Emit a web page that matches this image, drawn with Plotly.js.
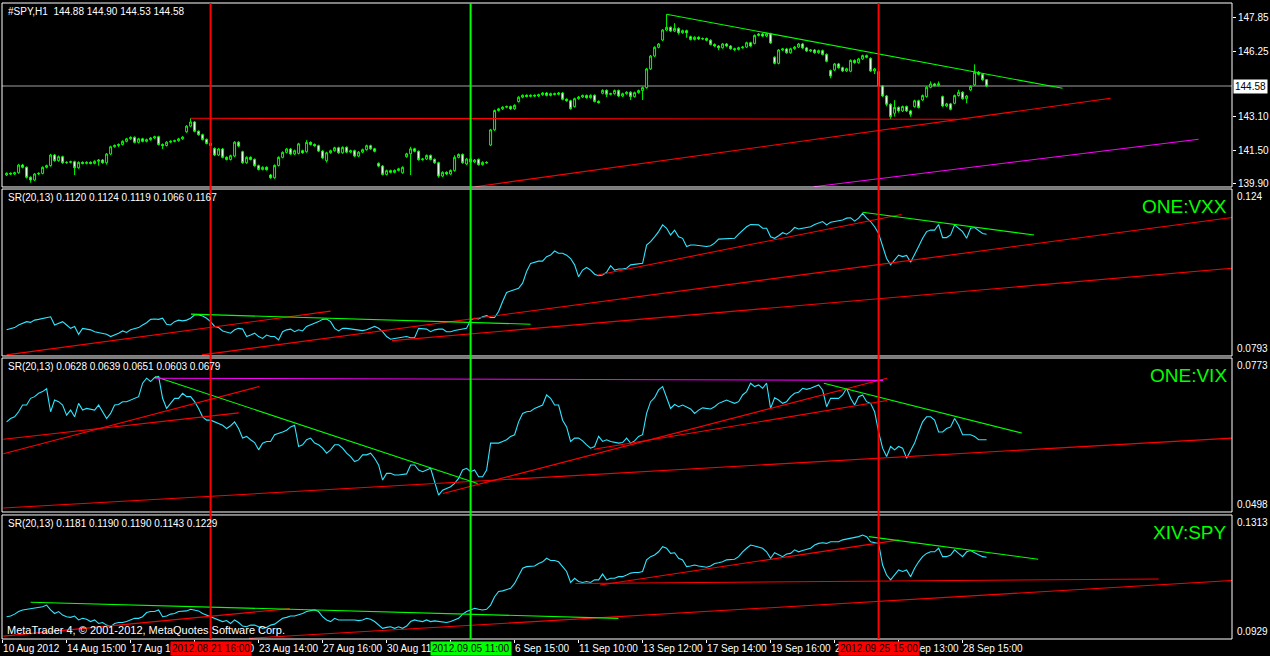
<!DOCTYPE html>
<html>
<head>
<meta charset="utf-8">
<script src="https://cdn.plot.ly/plotly-3.0.1.min.js"></script>
<style>html,body{margin:0;padding:0;background:#000;}#chart{width:1270px;height:656px;}</style>
</head>
<body>
<div id="chart"></div>
<script>
// ---------- DATA ----------
const spyOpen = [140.30,140.38,140.35,140.41,140.78,140.67,140.19,140.06,140.35,140.38,
140.67,140.75,141.26,140.99,141.18,140.89,140.91,140.94,140.65,140.91,
140.86,140.91,140.86,140.96,141.02,140.89,141.31,141.66,141.72,141.77,
141.92,142.04,142.11,141.87,142.04,141.92,142.00,142.08,142.14,141.77,
141.72,141.88,141.92,141.95,142.04,142.38,142.65,142.85,142.40,142.24,
142.01,141.82,141.58,141.26,141.55,141.15,141.05,141.21,141.88,141.42,
140.89,141.15,141.05,140.75,140.57,140.67,140.30,140.17,140.76,141.15,
141.39,141.55,141.31,141.34,141.47,141.42,141.87,141.77,141.71,141.45,
140.99,141.37,141.47,141.61,141.37,141.63,141.40,141.47,141.21,141.40,
141.52,141.71,141.56,140.86,140.73,140.33,140.51,140.43,140.52,140.41,
141.18,141.32,141.56,141.44,141.04,141.07,141.24,141.05,140.89,140.25,
140.43,140.35,140.51,141.15,141.29,140.83,141.07,140.93,141.05,140.80,
140.91,141.74,142.47,143.40,143.48,143.56,143.59,143.48,143.83,144.04,
144.13,144.08,144.13,144.10,144.16,144.24,144.13,144.21,144.18,144.24,
143.94,143.87,143.59,143.97,144.05,144.12,144.02,144.13,143.84,144.23,
144.37,144.18,144.21,144.36,144.10,144.21,144.28,144.07,144.26,144.36,
144.50,145.40,146.02,146.44,146.79,147.27,147.40,147.22,147.35,147.14,
147.24,146.95,146.82,146.92,146.84,146.86,146.78,146.58,146.50,146.42,
146.60,146.50,146.37,146.34,146.42,146.45,146.66,146.63,147.01,147.08,
146.98,147.09,145.96,145.67,146.31,146.36,146.18,146.37,146.45,146.60,
146.41,146.26,146.31,146.18,146.28,146.10,145.32,145.35,145.64,145.46,
145.30,145.29,145.81,145.70,145.88,146.04,145.91,145.30,145.27,144.58,
144.10,143.70,143.27,143.55,143.38,143.59,143.38,143.59,143.87,143.91,
144.07,144.52,144.68,144.61,144.07,143.62,143.72,143.75,144.12,144.28,
143.97,144.39,144.63,145.24,145.14,144.88];
const spyHigh = [140.43,140.43,140.46,140.84,140.84,140.72,140.24,140.40,140.43,140.72,
140.80,141.32,141.31,141.24,141.23,140.96,140.99,140.99,140.96,140.96,
140.96,140.96,141.01,141.07,141.07,141.36,141.71,141.77,141.82,141.97,
142.09,142.16,142.16,142.09,142.09,142.05,142.13,142.19,142.19,141.82,
141.93,141.97,142.00,142.09,142.17,142.70,143.03,142.90,142.45,142.29,
142.06,141.87,141.63,141.60,141.60,141.20,141.28,141.93,141.93,141.47,
141.20,141.20,141.10,140.80,140.72,140.72,140.35,140.81,141.20,141.44,
141.60,141.60,141.52,141.85,141.52,141.98,141.92,141.82,141.76,141.50,
141.42,141.52,141.66,141.66,141.68,141.68,141.52,141.52,141.45,141.57,
141.76,141.76,141.61,140.91,140.78,140.56,140.56,140.57,140.65,140.72,
141.37,141.66,141.61,141.49,141.12,141.29,141.29,141.10,140.94,140.48,
140.48,140.57,141.25,141.34,141.34,141.12,141.12,141.07,141.10,140.96,
140.96,142.52,143.45,143.53,143.61,143.64,143.64,143.70,144.09,144.18,
144.18,144.18,144.18,144.21,144.29,144.29,144.26,144.26,144.29,144.29,
143.99,143.92,144.02,144.10,144.17,144.17,144.18,144.18,143.89,144.42,
144.42,144.26,144.41,144.41,144.26,144.33,144.33,144.31,144.41,144.55,
145.45,146.07,146.49,146.65,147.32,148.03,147.45,147.60,147.40,147.29,
147.29,147.00,146.97,146.97,146.91,146.91,146.83,146.63,146.55,146.65,
146.65,146.55,146.42,146.47,146.50,146.71,146.71,147.06,147.13,147.13,
147.14,147.14,146.01,146.36,146.41,146.41,146.42,146.50,146.65,146.65,
146.46,146.36,146.36,146.33,146.33,146.15,145.37,145.69,145.69,145.51,
145.46,145.86,145.86,145.93,146.09,146.09,145.96,145.45,145.32,144.63,
144.15,143.75,143.90,143.60,143.64,143.64,143.43,143.92,143.92,144.17,
144.57,144.80,144.73,144.80,144.12,143.77,143.77,144.17,144.40,144.33,
144.15,144.61,145.62,145.30,145.19,144.90];
const spyLow = [140.25,140.30,140.30,140.36,140.62,140.13,139.93,140.01,140.30,140.33,
140.62,140.70,140.94,140.94,140.84,140.84,140.86,140.30,140.60,140.81,
140.81,140.81,140.81,140.75,140.84,140.80,141.26,141.61,141.64,141.72,
141.87,141.99,141.82,141.82,141.87,141.87,141.95,142.03,141.72,141.55,
141.67,141.83,141.87,141.90,141.99,142.33,142.60,142.35,142.19,141.96,
141.77,141.67,141.21,141.21,141.10,141.00,141.00,141.16,141.64,140.84,
140.84,141.00,140.70,140.52,140.52,140.51,140.12,140.12,140.71,141.10,
141.34,141.26,141.26,141.29,141.32,141.37,141.72,141.66,141.40,141.07,
140.90,141.32,141.42,141.32,141.32,141.35,141.35,141.16,141.16,141.35,
141.47,141.51,141.39,140.68,140.28,140.28,140.38,140.38,140.47,140.36,
141.13,140.30,141.39,140.99,140.99,141.02,141.00,140.84,140.17,140.20,
140.30,140.30,140.46,141.10,140.84,140.78,140.88,140.88,140.75,140.75,
140.84,141.69,142.42,143.35,143.43,143.51,143.43,143.43,143.78,143.99,
144.03,144.03,144.05,144.05,144.11,144.08,144.08,144.13,144.13,143.89,
143.82,143.44,143.54,143.92,144.00,143.97,143.97,143.79,143.73,144.18,
144.05,144.13,144.16,144.05,144.05,144.16,143.91,144.02,144.21,143.91,
144.45,145.35,145.97,146.39,146.74,147.22,147.17,147.17,147.05,147.09,
146.90,146.77,146.77,146.79,146.79,146.73,146.53,146.45,146.30,146.37,
146.45,146.32,146.26,146.29,146.37,146.40,146.45,146.58,146.96,146.93,
146.93,146.60,145.62,145.62,146.26,146.13,146.13,146.32,146.40,146.36,
146.21,146.21,146.13,146.13,146.05,145.72,144.95,145.30,145.41,145.25,
145.25,145.24,145.65,145.65,145.83,145.91,145.25,145.15,144.53,144.05,
143.60,142.98,143.11,143.30,143.33,143.33,143.10,143.54,143.50,143.86,
144.02,144.47,144.56,144.56,143.57,143.57,143.41,143.70,144.07,143.92,
143.75,144.34,144.58,145.09,144.83,144.53];
const spyClose = [140.38,140.35,140.41,140.78,140.67,140.19,140.06,140.35,140.38,140.67,
140.75,141.26,140.99,141.18,140.89,140.91,140.94,140.65,140.91,140.86,
140.91,140.86,140.96,141.02,140.89,141.31,141.66,141.72,141.77,141.92,
142.04,142.11,141.87,142.04,141.92,142.00,142.08,142.14,141.77,141.72,
141.88,141.92,141.95,142.04,142.12,142.65,142.85,142.40,142.24,142.01,
141.82,141.72,141.26,141.55,141.15,141.05,141.23,141.88,141.69,140.89,
141.15,141.05,140.75,140.57,140.67,140.56,140.17,140.76,141.15,141.39,
141.55,141.31,141.47,141.80,141.37,141.87,141.77,141.71,141.45,141.12,
141.37,141.47,141.61,141.37,141.63,141.40,141.47,141.21,141.40,141.52,
141.71,141.56,141.44,140.73,140.33,140.51,140.43,140.52,140.60,140.67,
141.32,141.56,141.44,141.04,141.07,141.24,141.05,140.89,140.25,140.43,
140.35,140.52,141.15,141.29,140.89,141.07,140.93,141.02,140.80,140.91,
140.89,142.47,143.40,143.48,143.56,143.59,143.48,143.65,144.04,144.13,
144.08,144.13,144.10,144.16,144.24,144.13,144.21,144.18,144.24,143.94,
143.87,143.49,143.97,144.05,144.12,144.02,144.13,143.84,143.78,144.37,
144.18,144.21,144.36,144.10,144.21,144.28,144.07,144.26,144.36,144.50,
145.40,146.02,146.44,146.60,147.27,147.40,147.22,147.35,147.14,147.24,
147.14,146.82,146.92,146.84,146.86,146.78,146.58,146.50,146.42,146.60,
146.50,146.37,146.34,146.42,146.45,146.66,146.50,147.01,147.08,146.98,
147.09,146.65,145.67,146.31,146.36,146.18,146.37,146.45,146.60,146.41,
146.26,146.31,146.18,146.28,146.10,145.77,145.06,145.64,145.46,145.30,
145.41,145.81,145.70,145.88,146.04,145.96,145.30,145.40,144.58,144.10,
143.70,143.11,143.55,143.38,143.59,143.38,143.22,143.87,143.55,144.12,
144.52,144.68,144.61,144.69,143.62,143.72,143.46,144.12,144.28,143.97,
144.10,144.56,145.24,145.14,144.88,144.58];

// ONE:VXX ratio
const vxxRatio = [0.0863,0.0865,0.0869,0.0876,0.0880,0.0885,0.0883,0.0889,0.0891,0.0894,
0.0896,0.0898,0.0876,0.0880,0.0885,0.0876,0.0867,0.0872,0.0851,0.0867,
0.0865,0.0863,0.0858,0.0856,0.0852,0.0851,0.0845,0.0849,0.0854,0.0860,
0.0856,0.0863,0.0867,0.0869,0.0876,0.0882,0.0891,0.0892,0.0891,0.0894,
0.0878,0.0876,0.0885,0.0889,0.0887,0.0889,0.0894,0.0903,0.0903,0.0900,
0.0894,0.0885,0.0872,0.0869,0.0860,0.0858,0.0854,0.0863,0.0867,0.0865,
0.0845,0.0849,0.0854,0.0845,0.0840,0.0849,0.0845,0.0845,0.0836,0.0858,
0.0863,0.0865,0.0858,0.0863,0.0860,0.0872,0.0876,0.0880,0.0885,0.0891,
0.0892,0.0885,0.0867,0.0860,0.0867,0.0867,0.0865,0.0863,0.0863,0.0861,
0.0863,0.0867,0.0872,0.0867,0.0858,0.0845,0.0838,0.0840,0.0842,0.0842,
0.0845,0.0842,0.0842,0.0867,0.0865,0.0865,0.0858,0.0863,0.0865,0.0865,
0.0858,0.0858,0.0861,0.0863,0.0867,0.0867,0.0889,0.0894,0.0892,0.0898,
0.0901,0.0896,0.0896,0.0912,0.0939,0.0963,0.0967,0.0970,0.0974,0.0988,
0.1019,0.1041,0.1045,0.1047,0.1047,0.1059,0.1063,0.1074,0.1068,0.1068,
0.1063,0.1054,0.1037,0.1005,0.1023,0.1030,0.1023,0.1012,0.1008,0.1010,
0.1017,0.1035,0.1023,0.1026,0.1026,0.1028,
0.1037,0.1038,0.1038,0.1041,0.1090,0.1099,0.1112,0.1126,0.1144,0.1135,
0.1117,0.1130,0.1112,0.1108,0.1086,0.1090,0.1090,0.1088,0.1086,0.1086,
0.1088,0.1095,0.1106,0.1106,0.1106,0.1106,0.1108,0.1119,0.1130,0.1139,
0.1145,0.1145,0.1144,0.1135,0.1135,0.1112,0.1108,0.1115,0.1123,0.1119,
0.1126,0.1137,0.1133,0.1135,0.1137,0.1139,0.1145,0.1148,0.1153,0.1144,
0.1151,0.1153,0.1154,0.1157,0.1162,0.1163,0.1154,0.1162,0.1175,0.1162,
0.1153,0.1139,0.1121,0.1086,0.1054,0.1037,0.1050,0.1063,0.1059,0.1062,
0.1044,0.1063,0.1086,0.1108,0.1126,0.1130,0.1130,0.1145,0.1110,0.1110,
0.1117,0.1144,0.1135,0.1126,0.1108,0.1135,0.1137,0.1130,0.1121,0.1119];

// ONE:VIX ratio
const vixRatio = [0.0659,0.0665,0.0668,0.0677,0.0689,0.0689,0.0701,0.0704,0.0710,0.0713,
0.0718,0.0677,0.0698,0.0695,0.0689,0.0671,0.0680,0.0668,0.0692,0.0680,
0.0683,0.0682,0.0680,0.0689,0.0677,0.0665,0.0674,0.0689,0.0690,0.0695,
0.0695,0.0698,0.0701,0.0704,0.0728,0.0737,0.0731,0.0738,0.0740,0.0701,
0.0683,0.0692,0.0701,0.0701,0.0710,0.0704,0.0704,0.0695,0.0683,0.0668,
0.0662,0.0662,0.0659,0.0656,0.0653,0.0647,0.0652,0.0659,0.0647,0.0630,
0.0633,0.0627,0.0622,0.0609,0.0621,0.0624,0.0624,0.0636,0.0638,0.0641,
0.0644,0.0650,0.0653,0.0615,0.0618,0.0627,0.0630,0.0621,0.0618,0.0612,
0.0603,0.0609,0.0618,0.0618,0.0612,0.0603,0.0597,0.0588,0.0591,0.0600,
0.0600,0.0603,0.0594,0.0582,0.0555,0.0567,0.0567,0.0564,0.0564,0.0565,
0.0566,0.0582,0.0582,0.0573,0.0570,0.0573,0.0576,0.0552,0.0528,0.0537,
0.0540,0.0543,0.0549,0.0558,0.0573,0.0576,0.0570,0.0573,0.0561,0.0561,
0.0573,0.0621,0.0621,0.0621,0.0624,0.0627,0.0633,0.0636,0.0659,0.0674,
0.0677,0.0678,0.0683,0.0686,0.0689,0.0707,0.0701,0.0689,0.0689,0.0662,
0.0650,0.0624,0.0630,0.0630,0.0625,0.0618,0.0612,0.0615,0.0633,0.0624,
0.0627,0.0624,0.0622,0.0621,0.0622,0.0630,
0.0621,0.0625,0.0633,0.0636,0.0674,0.0695,0.0702,0.0716,0.0722,0.0701,
0.0683,0.0690,0.0686,0.0689,0.0686,0.0682,0.0674,0.0680,0.0684,0.0683,
0.0682,0.0686,0.0692,0.0695,0.0698,0.0695,0.0692,0.0695,0.0707,0.0713,
0.0728,0.0722,0.0725,0.0719,0.0728,0.0683,0.0702,0.0698,0.0692,0.0695,
0.0704,0.0710,0.0712,0.0719,0.0717,0.0719,0.0722,0.0725,0.0716,0.0686,
0.0701,0.0701,0.0701,0.0707,0.0719,0.0701,0.0689,0.0704,0.0707,0.0695,
0.0692,0.0677,0.0641,0.0612,0.0597,0.0615,0.0609,0.0615,0.0612,0.0594,
0.0609,0.0621,0.0641,0.0659,0.0668,0.0668,0.0662,0.0641,0.0641,0.0647,
0.0650,0.0665,0.0653,0.0636,0.0636,0.0636,0.0633,0.0627,0.0627,0.0627];

// XIV:SPY ratio
const xivRatio = [0.0998,0.1000,0.1006,0.1014,0.1019,0.1021,0.1024,0.1027,0.1029,0.1029,
0.1034,0.1019,0.1008,0.1014,0.1003,0.0998,0.0996,0.1000,0.0988,0.0993,
0.0990,0.0983,0.0988,0.0977,0.0980,0.0972,0.0967,0.0977,0.0980,0.0980,
0.0983,0.0988,0.0993,0.0993,0.0998,0.1011,0.1014,0.1014,0.1019,0.0998,
0.1000,0.1006,0.1008,0.1014,0.1014,0.1016,0.1021,0.1019,0.1016,0.1008,
0.1003,0.0998,0.0993,0.0988,0.0983,0.0986,0.0977,0.0988,0.0980,0.0969,
0.0967,0.0972,0.0972,0.0967,0.0962,0.0965,0.0972,0.0975,0.0983,0.0993,
0.0996,0.1000,0.1000,0.1003,0.1008,0.1014,0.1016,0.1019,0.1014,0.0998,
0.0988,0.0983,0.0993,0.0988,0.0988,0.0988,0.0990,0.0988,0.0986,0.0988,
0.0993,0.0990,0.0983,0.0972,0.0962,0.0965,0.0967,0.0962,0.0967,0.0962,
0.0969,0.0983,0.0988,0.0985,0.0983,0.0988,0.0983,0.0985,0.0983,0.0983,
0.0980,0.0983,0.0988,0.0993,0.1006,0.1014,0.1019,0.1024,0.1021,0.1019,
0.1021,0.1034,0.1060,0.1076,0.1078,0.1081,0.1086,0.1101,0.1127,0.1148,
0.1153,0.1153,0.1155,0.1163,0.1168,0.1179,0.1172,0.1172,0.1168,0.1153,
0.1138,0.1104,0.1117,0.1107,0.1104,0.1107,0.1104,0.1112,0.1112,0.1130,
0.1112,0.1117,0.1117,0.1122,0.1122,0.1127,
0.1133,0.1135,0.1135,0.1138,0.1174,0.1184,0.1189,0.1199,0.1215,0.1210,
0.1194,0.1196,0.1179,0.1174,0.1153,0.1155,0.1158,0.1155,0.1153,0.1151,
0.1155,0.1163,0.1165,0.1168,0.1174,0.1174,0.1176,0.1184,0.1199,0.1210,
0.1220,0.1217,0.1213,0.1210,0.1199,0.1179,0.1196,0.1189,0.1184,0.1192,
0.1194,0.1205,0.1199,0.1203,0.1207,0.1210,0.1220,0.1225,0.1227,0.1225,
0.1230,0.1230,0.1230,0.1236,0.1238,0.1241,0.1244,0.1246,0.1251,0.1246,
0.1230,0.1228,0.1225,0.1158,0.1127,0.1112,0.1127,0.1143,0.1138,0.1143,
0.1122,0.1148,0.1168,0.1184,0.1194,0.1199,0.1199,0.1210,0.1184,0.1184,
0.1189,0.1205,0.1194,0.1184,0.1199,0.1203,0.1196,0.1189,0.1184,0.1182];

// trend lines: [barStart, valueStart, barEnd, valueEnd]
const spyTrendRed = [[46, 143.03, 237.5, 142.98], [117.2, 139.74, 276, 143.99]];
const spyTrendGreen = [[165, 148.03, 264, 144.47]];
const spyTrendMagenta = [[201.8, 139.74, 298, 142.02]];
const vxxTrendRed = [[0, 0.0796, 81, 0.0913], [48.85, 0.0796, 306.4, 0.1164], [96.35, 0.0834, 306.4, 0.1028], [147.8, 0.1010, 223.7, 0.1172]];
const vxxTrendGreen = [[46.1, 0.0905, 131, 0.0878], [214, 0.1178, 256.85, 0.1117]];
const vixTrendRed = [[-0.8, 0.0602, 63.15, 0.0722], [-0.8, 0.0628, 58.05, 0.0675], [-0.8, 0.0505, 306.35, 0.0630], [109.1, 0.0531, 220.1, 0.0737], [146.8, 0.0610, 220.1, 0.0697]];
const vixTrendGreen = [[37.1, 0.0740, 117.75, 0.0549], [204.3, 0.0728, 253.8, 0.0639]];
const vixTrendMagenta = [[37.1, 0.0737, 219.1, 0.0733]];
const xivTrendRed = [[-0.8, 0.0938, 70.8, 0.1023], [60.6, 0.0931, 306.35, 0.1110], [142.2, 0.1101, 288, 0.1115], [148.35, 0.1096, 223.2, 0.1236]];
const xivTrendGreen = [[6, 0.1043, 152.95, 0.0993], [215.55, 0.1246, 257.9, 0.1176]];

// vertical markers
const markerBars = [51, 116, 218];
const markerLabels = ["2012.08.21 16:00", "2012.09.05 11:00", "2012.09.25 15:00"];
const markerColors = ["#ff0000", "#00ff00", "#ff0000"];

// axis ticks
const timeTickBars = [-1, 15, 31, 47, 63, 79, 95, 111, 127, 143, 159, 175, 191, 207, 223, 239];
const timeTickLabels = ["10 Aug 2012","14 Aug 15:00","17 Aug 10:00","21 Aug 12:00","23 Aug 14:00","27 Aug 16:00","30 Aug 11:00","4 Sep 13:00","6 Sep 15:00","11 Sep 10:00","13 Sep 12:00","17 Sep 14:00","19 Sep 16:00","24 Sep 11:00","26 Sep 13:00","28 Sep 15:00"];
const priceTicks = [139.90, 141.50, 143.10, 146.25, 147.85];
const priceTickLabels = ["139.90", "141.50", "143.10", "146.25", "147.85"];
const lastPrice = 144.58;
const priceRange = [139.725, 148.57];
const vxxRange = [0.0793, 0.1240];
const vixRange = [0.0498, 0.0773];
const xivRange = [0.0929, 0.1313];
const vxxRangeLabels = ["0.124", "0.0793"];
const vixRangeLabels = ["0.0773", "0.0498"];
const xivRangeLabels = ["0.1313", "0.0929"];
const headerSpy = "#SPY,H1  144.88 144.90 144.53 144.58";
const headerVxx = "SR(20,13) 0.1120 0.1124 0.1119 0.1066 0.1167";
const headerVix = "SR(20,13) 0.0628 0.0639 0.0651 0.0603 0.0679";
const headerXiv = "SR(20,13) 0.1181 0.1190 0.1190 0.1143 0.1229";

// ---------- CHART ----------
const FONT = "Liberation Sans, Arial, sans-serif";
const bars = spyClose.map((_, i) => i);
const traces = [];

traces.push({
  type: "candlestick", x: bars, open: spyOpen, high: spyHigh, low: spyLow, close: spyClose,
  xaxis: "x", yaxis: "y", whiskerwidth: 0, hoverinfo: "skip",
  increasing: {line: {color: "#00ff00", width: 1}, fillcolor: "#000000"},
  decreasing: {line: {color: "#00ff00", width: 1}, fillcolor: "#ffffff"}
});

function addLine(vals, axis) {
  traces.push({type: "scatter", mode: "lines", x: bars, y: vals, xaxis: "x", yaxis: axis,
    line: {color: "#2ee6ff", width: 1.1}, hoverinfo: "skip"});
}
function addTrends(list, axis, color) {
  list.forEach(s => traces.push({type: "scatter", mode: "lines", x: [s[0], s[2]], y: [s[1], s[3]],
    xaxis: "x", yaxis: axis, line: {color: color, width: 1.1}, hoverinfo: "skip"}));
}
addTrends(spyTrendRed, "y", "#ff0000");
addTrends(spyTrendGreen, "y", "#00ff00");
addTrends(spyTrendMagenta, "y", "#ff00ff");
addLine(vxxRatio, "y2");
addTrends(vxxTrendRed, "y2", "#ff0000");
addTrends(vxxTrendGreen, "y2", "#00ff00");
addLine(vixRatio, "y3");
addTrends(vixTrendRed, "y3", "#ff0000");
addTrends(vixTrendGreen, "y3", "#00ff00");
addTrends(vixTrendMagenta, "y3", "#ff00ff");
addLine(xivRatio, "y4");
addTrends(xivTrendRed, "y4", "#ff0000");
addTrends(xivTrendGreen, "y4", "#00ff00");

const shapes = [];
["y", "y2", "y3", "y4"].forEach(a => shapes.push({type: "rect", xref: "paper", yref: a + " domain",
  x0: 0, x1: 1, y0: 0, y1: 1, line: {color: "#ffffff", width: 1}, layer: "above"}));
shapes.push({type: "line", xref: "paper", yref: "y", x0: 0, x1: 1, y0: lastPrice, y1: lastPrice,
  line: {color: "#a0a0a0", width: 1}, layer: "below"});
markerBars.forEach((b, i) => shapes.push({type: "line", xref: "x", yref: "paper", x0: b, x1: b, y0: 0, y1: 1,
  line: {color: markerColors[i], width: 2}, layer: "above"}));

const white = {color: "#ffffff", size: 10, family: FONT};
const annotations = [];
function hdr(text, axis) {
  annotations.push({xref: "paper", yref: axis + " domain", x: 0, y: 1, xanchor: "left", yanchor: "top",
    xshift: 4, yshift: -1, text: text, showarrow: false, font: white});
}
hdr(headerSpy, "y"); hdr(headerVxx, "y2"); hdr(headerVix, "y3"); hdr(headerXiv, "y4");
function tag(text, axis) {
  annotations.push({xref: "paper", yref: axis + " domain", x: 1, y: 1, xanchor: "right", yanchor: "top",
    xshift: -3, yshift: -5, text: text, showarrow: false, font: {color: "#00ff00", size: 19, family: FONT}});
}
tag("ONE:VXX", "y2"); tag("ONE:VIX", "y3"); tag("XIV:SPY", "y4");
function rangeLabels(lbls, axis) {
  annotations.push({xref: "paper", yref: axis + " domain", x: 1, y: 1, xanchor: "left", yanchor: "top",
    xshift: 3, yshift: 0, text: lbls[0], showarrow: false, font: white});
  annotations.push({xref: "paper", yref: axis + " domain", x: 1, y: 0, xanchor: "left", yanchor: "bottom",
    xshift: 3, yshift: 0, text: lbls[1], showarrow: false, font: white});
}
rangeLabels(vxxRangeLabels, "y2"); rangeLabels(vixRangeLabels, "y3"); rangeLabels(xivRangeLabels, "y4");
annotations.push({xref: "paper", yref: "y", x: 1, y: lastPrice, xanchor: "left", yanchor: "middle", xshift: 1,
  text: lastPrice.toFixed(2), showarrow: false, bgcolor: "#ffffff", borderpad: 1,
  font: {color: "#000000", size: 10, family: FONT}});
annotations.push({xref: "paper", yref: "y4 domain", x: 0, y: 0, xanchor: "left", yanchor: "bottom", xshift: 3, yshift: 1,
  text: "MetaTrader 4, © 2001-2012, MetaQuotes Software Corp.", showarrow: false,
  font: {color: "#ffffff", size: 11, family: FONT}});
markerBars.forEach((b, i) => annotations.push({xref: "x", yref: "paper", x: b, y: 0, xanchor: "center", yanchor: "top",
  yshift: -2, text: markerLabels[i], showarrow: false, bgcolor: markerColors[i], borderpad: 1,
  font: {color: "#000000", size: 10, family: FONT}}));

const yBase = {side: "right", anchor: "x", showgrid: false, zeroline: false, showline: false, fixedrange: true};
const layout = {
  width: 1270, height: 656, paper_bgcolor: "#000000", plot_bgcolor: "#000000", showlegend: false,
  margin: {l: 2, r: 38, t: 3, b: 17}, font: {family: FONT, color: "#ffffff", size: 10},
  xaxis: {domain: [0, 1], range: [-1.15, 306.35], anchor: "y4", showgrid: false, zeroline: false, showline: false,
    tickmode: "array", tickvals: timeTickBars, ticktext: timeTickLabels, ticks: "outside", ticklen: 3,
    tickangle: 0, automargin: false,
    tickcolor: "#ffffff", tickfont: white, ticklabelposition: "outside right", rangeslider: {visible: false}, fixedrange: true},
  yaxis: Object.assign({}, yBase, {domain: [0.7107, 1], range: priceRange, tickmode: "array", tickvals: priceTicks,
    ticktext: priceTickLabels, ticks: "outside", ticklen: 3, tickcolor: "#ffffff", tickfont: white}),
  yaxis2: Object.assign({}, yBase, {domain: [0.4450, 0.7075], range: vxxRange, showticklabels: false, ticks: ""}),
  yaxis3: Object.assign({}, yBase, {domain: [0.1997, 0.4418], range: vixRange, showticklabels: false, ticks: ""}),
  yaxis4: Object.assign({}, yBase, {domain: [0, 0.1950], range: xivRange, showticklabels: false, ticks: ""}),
  shapes: shapes, annotations: annotations
};
Plotly.newPlot("chart", traces, layout, {displayModeBar: false, staticPlot: true});
</script>
</body>
</html>
